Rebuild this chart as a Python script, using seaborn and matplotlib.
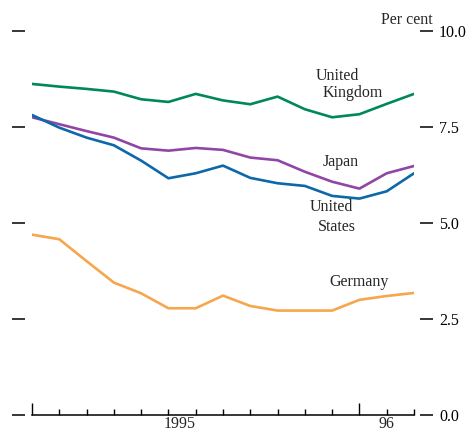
import numpy as np
import pandas as pd
import matplotlib
matplotlib.use("Agg")
import matplotlib.pyplot as plt
import seaborn as sns

sns.set_theme(style="white")
plt.rcParams['font.family'] = ['Liberation Serif', 'DejaVu Serif']

# monthly points, index 0..14
months = list(range(15))
uk = [8.62, 8.55, 8.49, 8.42, 8.22, 8.15, 8.36, 8.19, 8.09, 8.29, 7.96, 7.75, 7.83, 8.10, 8.36]
japan = [7.75, 7.57, 7.39, 7.22, 6.94, 6.88, 6.95, 6.90, 6.70, 6.63, 6.33, 6.07, 5.89, 6.29, 6.48]
us = [7.81, 7.48, 7.22, 7.02, 6.62, 6.16, 6.29, 6.49, 6.17, 6.03, 5.96, 5.70, 5.63, 5.82, 6.29]
germany = [4.69, 4.57, 4.00, 3.44, 3.16, 2.77, 2.77, 3.10, 2.83, 2.71, 2.71, 2.71, 2.99, 3.09, 3.17]

y_ticks = [0.0, 2.5, 5.0, 7.5, 10.0]
year_labels = ["1995", "96"]
year_label_pos = [5.4, 13.0]
year_starts = [0, 12]

colors = {"United Kingdom": "#00885c", "Japan": "#9046a5",
          "United States": "#0c68a8", "Germany": "#f6a64c"}

df = pd.DataFrame({
    "month": months * 4,
    "rate": uk + japan + us + germany,
    "country": (["United Kingdom"] * 15 + ["Japan"] * 15
                + ["United States"] * 15 + ["Germany"] * 15),
})

fig = plt.figure(figsize=(4.69, 4.36), dpi=100)
ax = fig.add_axes([32 / 469, 21.5 / 436, 382 / 469, 383.5 / 436])

sns.lineplot(data=df, x="month", y="rate", hue="country", palette=colors,
             linewidth=1.9, legend=False, ax=ax)

ax.set_xlim(0, 14)
ax.set_ylim(0, 10)
ax.set_xlabel("")
ax.set_ylabel("")

# spines: only the bottom axis line
ax.spines['top'].set_visible(False)
ax.spines['left'].set_visible(False)
ax.spines['right'].set_visible(False)
ax.spines['bottom'].set_linewidth(1.1)
ax.spines['bottom'].set_color('black')
ax.spines['left'].set_position(('outward', 5))
ax.spines['right'].set_position(('outward', 4.5))

# y ticks as dashes on both sides, labels on right
ax.set_yticks(y_ticks)
ax.set_yticklabels([f"{v:.1f}" for v in y_ticks])
ax.tick_params(axis='y', which='major', left=True, right=True,
               labelleft=False, labelright=True, direction='out',
               length=9.5, width=1.1, color='black', pad=4,
               labelsize=11.5, labelcolor='black')

# x ticks pointing inward from the bottom line
ax.set_xticks(year_starts)
ax.set_xticklabels([])
ax.set_xticks(months, minor=True)
ax.tick_params(axis='x', which='major', direction='in', length=8.5,
               width=1.0, color='black', bottom=True)
ax.tick_params(axis='x', which='minor', direction='in', length=4.5,
               width=1.0, color='black', bottom=True)

for lab, pos in zip(year_labels, year_label_pos):
    ax.text(pos, -0.24, lab, ha='center', va='center', fontsize=11.5,
            transform=ax.transData, clip_on=False)

# series labels
fs = 11.5
ax.text(11.18, 8.83, "United", ha='center', va='center', fontsize=fs)
ax.text(11.76, 8.38, "Kingdom", ha='center', va='center', fontsize=fs)
ax.text(11.30, 6.58, "Japan", ha='center', va='center', fontsize=fs)
ax.text(10.99, 5.41, "United", ha='center', va='center', fontsize=fs)
ax.text(11.18, 4.89, "States", ha='center', va='center', fontsize=fs)
ax.text(11.98, 3.46, "Germany", ha='center', va='center', fontsize=fs)

fig.text(433 / 469, 1 - 20 / 436, "Per cent", ha='right', va='center',
         fontsize=11.5)

fig.savefig("out.png", dpi=100)
